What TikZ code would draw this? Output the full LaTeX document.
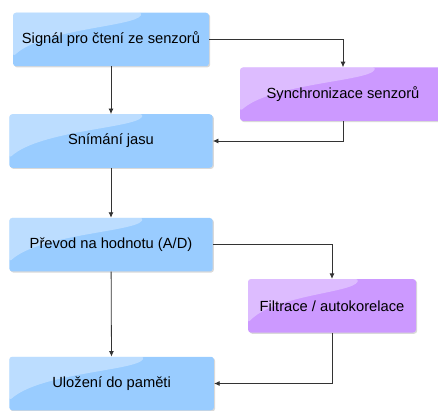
\documentclass[tikz,border=0pt]{standalone}
\usepackage{fontspec}
\setmainfont{Liberation Sans}
\usetikzlibrary{calc,shadows,arrows.meta}
\definecolor{bluebox}{HTML}{99CCFF}
\definecolor{purplebox}{HTML}{CC99FF}
\definecolor{linecol}{HTML}{333333}

\begin{document}
\begin{tikzpicture}[x=1pt,y=1pt,
    gloss/.style={path picture={
        \coordinate (gnw) at (path picture bounding box.north west);
        \coordinate (gne) at (path picture bounding box.north east);
        \coordinate (gsw) at (path picture bounding box.south west);
        \fill [white,fill opacity=0.35] (gnw) -- ($(gnw)!0.66!(gne)$)
            .. controls ($(gnw)!0.62!(gne)+(0,-14)$) and ($(gnw)!0.15!(gne)+(0,-16)$)
            .. ($(gnw)!0.82!(gsw)$) -- cycle;}},
    box/.style={rounded corners=3pt,minimum height=53.5pt,inner sep=0pt,
        font=\fontsize{14.7}{17}\selectfont,gloss,
        drop shadow={opacity=0.3,shadow xshift=1.2pt,shadow yshift=-1.2pt}},
    bluebox/.style={box,fill=bluebox},
    purplebox/.style={box,fill=purplebox},
    link/.style={draw=linecol,line width=0.8pt,-{Latex[length=5.5pt,width=5pt]}}]
    \useasboundingbox (0,0) rectangle (438,410);
    \node [bluebox,minimum width=196pt] (sig) at (111,370.5) {Signál pro čtení ze senzorů};
    \node [purplebox,minimum width=206pt] (sync) at (343,315.8) {Synchronizace senzorů};
    \node [bluebox,minimum width=203.4pt] (snim) at (111,269) {Snímání jasu};
    \node [bluebox,minimum width=203.4pt] (prev) at (111,165.3) {Převod na hodnotu (A/D)};
    \node [purplebox,minimum width=168pt] (filt) at (332,104.2) {Filtrace / autokorelace};
    \node [bluebox,minimum width=204.7pt] (ulo) at (111.6,26.5) {Uložení do paměti};
    % main chain
    \draw [link] (sig) -- (snim);
    \draw [link] (snim) -- (prev);
    \draw [link] (prev) -- (ulo);
    % side branches
    \draw [link] (sig.east) -| (sync.north);
    \draw [link] (sync.south) |- (snim.east);
    \draw [link] (prev.east) -| (filt.north);
    \draw [link] (filt.south) |- (ulo.east);
\end{tikzpicture}
\end{document}
